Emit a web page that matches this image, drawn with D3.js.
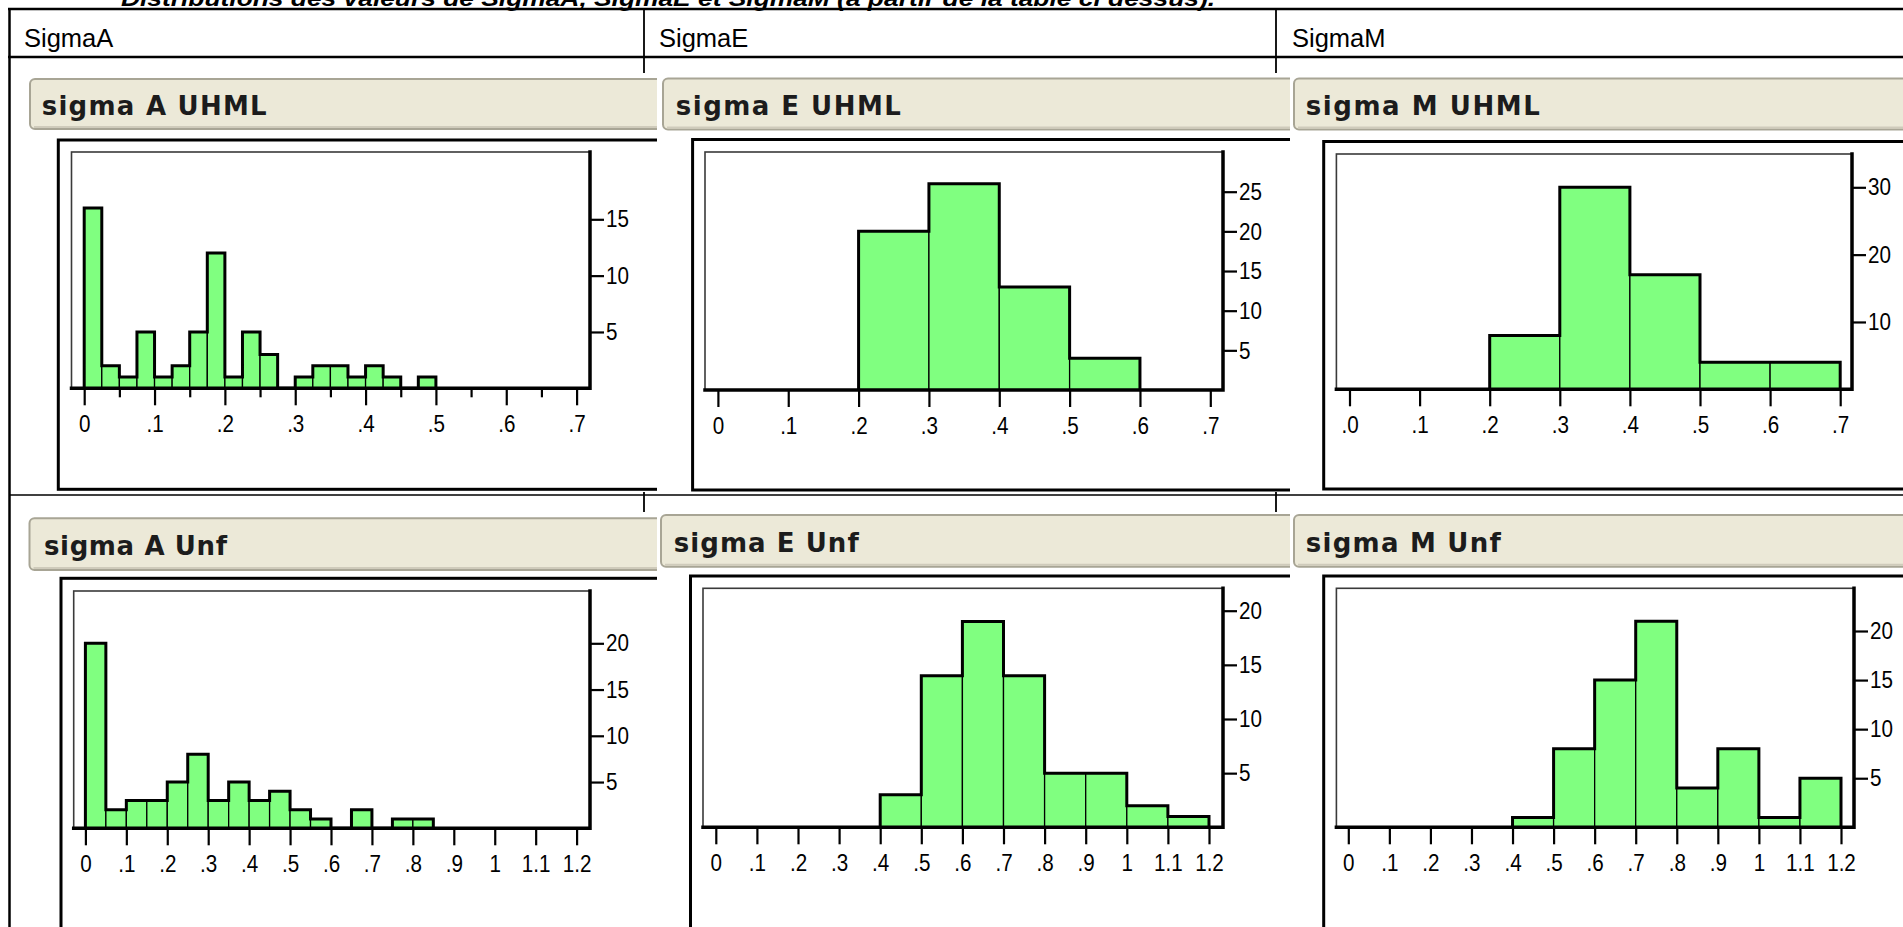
<!DOCTYPE html>
<html><head><meta charset="utf-8">
<script src="https://cdn.jsdelivr.net/npm/d3@7"></script>
<style>html,body{margin:0;padding:0;background:#fff;overflow:hidden}</style>
</head><body>
<svg id="c" width="1903" height="927"></svg>
<script>
// ---------- text ----------
const pageTitle = "Distributions des valeurs de SigmaA, SigmaE et SigmaM (à partir de la table ci dessus).";
const columnHeaders = ["SigmaA", "SigmaE", "SigmaM"];
const panelTitles = ["sigma A UHML", "sigma E UHML", "sigma M UHML", "sigma A Unf", "sigma E Unf", "sigma M Unf"];

// ---------- data (bin edges and counts) ----------
const sigmaA_UHML_bins = [0, 0.025, 0.05, 0.075, 0.1, 0.125, 0.15, 0.175, 0.2, 0.225, 0.25, 0.275, 0.3, 0.325, 0.35, 0.375, 0.4, 0.425, 0.45, 0.475, 0.5];
const sigmaA_UHML_counts = [16, 2, 1, 5, 1, 2, 5, 12, 1, 5, 3, 0, 1, 2, 2, 1, 2, 1, 0, 1];
const sigmaE_UHML_bins = [0.2, 0.3, 0.4, 0.5, 0.6];
const sigmaE_UHML_counts = [20, 26, 13, 4];
const sigmaM_UHML_bins = [0.2, 0.3, 0.4, 0.5, 0.6, 0.7];
const sigmaM_UHML_counts = [8, 30, 17, 4, 4];
const sigmaA_Unf_bins = [0, 0.05, 0.1, 0.15, 0.2, 0.25, 0.3, 0.35, 0.4, 0.45, 0.5, 0.55, 0.6, 0.65, 0.7, 0.75, 0.8, 0.85];
const sigmaA_Unf_counts = [20, 2, 3, 3, 5, 8, 3, 5, 3, 4, 2, 1, 0, 2, 0, 1, 1];
const sigmaE_Unf_bins = [0.4, 0.5, 0.6, 0.7, 0.8, 0.9, 1.0, 1.1, 1.2];
const sigmaE_Unf_counts = [3, 14, 19, 14, 5, 5, 2, 1];
const sigmaM_Unf_bins = [0.4, 0.5, 0.6, 0.7, 0.8, 0.9, 1.0, 1.1, 1.2];
const sigmaM_Unf_counts = [1, 8, 15, 21, 4, 8, 1, 5];

// ---------- ticks ----------
const xTicksUHML = [0, 0.1, 0.2, 0.3, 0.4, 0.5, 0.6, 0.7];
const xMinorTicksA_UHML = [0.05, 0.15, 0.25, 0.35, 0.45, 0.55, 0.65];
const xLabelsUHML = ["0", ".1", ".2", ".3", ".4", ".5", ".6", ".7"];
const xLabelsM_UHML = [".0", ".1", ".2", ".3", ".4", ".5", ".6", ".7"];
const xTicksUnf = [0, 0.1, 0.2, 0.3, 0.4, 0.5, 0.6, 0.7, 0.8, 0.9, 1.0, 1.1, 1.2];
const xLabelsUnf = ["0", ".1", ".2", ".3", ".4", ".5", ".6", ".7", ".8", ".9", "1", "1.1", "1.2"];
const yTicksA_UHML = [5, 10, 15];
const yTicksE_UHML = [5, 10, 15, 20, 25];
const yTicksM_UHML = [10, 20, 30];
const yTicksA_Unf = [5, 10, 15, 20];
const yTicksE_Unf = [5, 10, 15, 20];
const yTicksM_Unf = [5, 10, 15, 20];

const panelsData = [
  {title: panelTitles[0], bins: sigmaA_UHML_bins, counts: sigmaA_UHML_counts, xTicks: xTicksUHML, xMinor: xMinorTicksA_UHML, xLabels: xLabelsUHML, yTicks: yTicksA_UHML},
  {title: panelTitles[1], bins: sigmaE_UHML_bins, counts: sigmaE_UHML_counts, xTicks: xTicksUHML, xMinor: [], xLabels: xLabelsUHML, yTicks: yTicksE_UHML},
  {title: panelTitles[2], bins: sigmaM_UHML_bins, counts: sigmaM_UHML_counts, xTicks: xTicksUHML, xMinor: [], xLabels: xLabelsM_UHML, yTicks: yTicksM_UHML},
  {title: panelTitles[3], bins: sigmaA_Unf_bins, counts: sigmaA_Unf_counts, xTicks: xTicksUnf, xMinor: [], xLabels: xLabelsUnf, yTicks: yTicksA_Unf},
  {title: panelTitles[4], bins: sigmaE_Unf_bins, counts: sigmaE_Unf_counts, xTicks: xTicksUnf, xMinor: [], xLabels: xLabelsUnf, yTicks: yTicksE_Unf},
  {title: panelTitles[5], bins: sigmaM_Unf_bins, counts: sigmaM_Unf_counts, xTicks: xTicksUnf, xMinor: [], xLabels: xLabelsUnf, yTicks: yTicksM_Unf}
];

// ---------- layout (pixel positions only) ----------
const layouts = [
  {clip:[14,73,657,492], bar:{x:30,y:79,h:50}, txt:{x:41.7,y:115,w:225}, frame:{x:58.3,y:140,b:489.3}, plot:{l:71.5,t:152,r:590,b:388.3}, xDom:0.7, xr:[84.2,576.6], yRef:15, yRefPx:219.3},
  {clip:[657,73,1290,492], bar:{x:663,y:78.5,h:51}, txt:{x:675.8,y:115,w:225}, frame:{x:692.6,y:139.5,b:490}, plot:{l:705,t:152,r:1223,b:390}, xDom:0.7, xr:[717.9,1210.3], yRef:25, yRefPx:191.7},
  {clip:[1290,73,1903,492], bar:{x:1294,y:78.5,h:51}, txt:{x:1305.8,y:115,w:234}, frame:{x:1323.7,y:141.5,b:489}, plot:{l:1336.4,t:154,r:1852,b:389.3}, xDom:0.7, xr:[1349.5,1840.2], yRef:30, yRefPx:187.3},
  {clip:[14,512,657,927], bar:{x:29.5,y:518.3,h:51.7}, txt:{x:44,y:555,w:183}, frame:{x:61,y:578.3,b:1100}, plot:{l:73.7,t:591,r:590,b:828.3}, xDom:1.2, xr:[85.4,576.6], yRef:20, yRefPx:643.3},
  {clip:[657,512,1290,927], bar:{x:661,y:515,h:51.7}, txt:{x:673.7,y:551.7,w:185}, frame:{x:690.5,y:576,b:1100}, plot:{l:703,t:588.3,r:1223,b:827.3}, xDom:1.2, xr:[715.8,1209], yRef:20, yRefPx:610.7},
  {clip:[1290,512,1903,927], bar:{x:1294,y:515,h:51.7}, txt:{x:1305.8,y:551.7,w:195}, frame:{x:1323.7,y:576,b:1100}, plot:{l:1336.4,t:588.3,r:1854,b:827.3}, xDom:1.2, xr:[1348.3,1841], yRef:20, yRefPx:631}
];

const svg = d3.select("#c");
const TICKFONT = "'Liberation Sans', Arial, sans-serif";
const TICKSIZE = 24;
const TICKSCALE = 0.86;

// ---------- page title (cut at top, as in the reference) ----------
svg.append("text").attr("x", 121).attr("y", 5.5)
  .attr("font-family", "'Liberation Sans', Arial, sans-serif")
  .attr("font-weight", "bold").attr("font-style", "italic").attr("font-size", 22)
  .attr("textLength", 1094).attr("lengthAdjust", "spacingAndGlyphs")
  .text(pageTitle);

// ---------- table grid ----------
const grid = svg.append("g").attr("stroke", "#000");
grid.append("line").attr("x1", 8).attr("x2", 1903).attr("y1", 9).attr("y2", 9).attr("stroke-width", 2.5);
grid.append("line").attr("x1", 8).attr("x2", 1903).attr("y1", 57).attr("y2", 57).attr("stroke-width", 2.5);
grid.append("line").attr("x1", 9.5).attr("x2", 9.5).attr("y1", 8).attr("y2", 927).attr("stroke-width", 2.5);
[644, 1276].forEach(xv => grid.append("line").attr("x1", xv).attr("x2", xv).attr("y1", 9).attr("y2", 927).attr("stroke-width", 1.8));
grid.append("line").attr("x1", 9).attr("x2", 1903).attr("y1", 495).attr("y2", 495).attr("stroke-width", 1.6);

const headerX = [24, 659, 1292];
columnHeaders.forEach((h, i) => {
  svg.append("text").attr("x", headerX[i]).attr("y", 46.5)
    .attr("font-family", "'Liberation Sans', Arial, sans-serif").attr("font-size", 25.5)
    .attr("fill", "#000").text(h);
});

// ---------- panels ----------
function drawPanel(L, D, idx) {
  const cid = "clip" + idx;
  svg.append("clipPath").attr("id", cid).append("rect")
    .attr("x", L.clip[0]).attr("y", L.clip[1])
    .attr("width", L.clip[2] - L.clip[0]).attr("height", L.clip[3] - L.clip[1]);
  const g = svg.append("g").attr("clip-path", `url(#${cid})`);
  g.append("rect").attr("x", L.clip[0]).attr("y", L.clip[1])
    .attr("width", L.clip[2] - L.clip[0]).attr("height", L.clip[3] - L.clip[1]).attr("fill", "#fff");

  // title bar
  g.append("rect").attr("x", L.bar.x).attr("y", L.bar.y).attr("width", 1300).attr("height", L.bar.h)
    .attr("rx", 5).attr("fill", "#ECE9D8").attr("stroke", "#A8A595").attr("stroke-width", 2);
  g.append("line").attr("x1", L.bar.x + 4).attr("x2", L.bar.x + 1300).attr("y1", L.bar.y + L.bar.h - 2).attr("y2", L.bar.y + L.bar.h - 2)
    .attr("stroke", "#CFCBBB").attr("stroke-width", 2);
  g.append("text").attr("x", L.txt.x).attr("y", L.txt.y)
    .attr("font-family", "'DejaVu Sans', Verdana, sans-serif").attr("font-weight", "bold").attr("font-size", 26)
    .attr("fill", "#1c1c1c").attr("textLength", L.txt.w).attr("lengthAdjust", "spacing")
    .text(D.title);

  // outer frame
  g.append("rect").attr("x", L.frame.x).attr("y", L.frame.y).attr("width", 1400).attr("height", L.frame.b - L.frame.y)
    .attr("fill", "none").attr("stroke", "#000").attr("stroke-width", 3);

  const x = d3.scaleLinear().domain([0, L.xDom]).range(L.xr);
  const y = d3.scaleLinear().domain([0, L.yRef]).range([L.plot.b, L.yRefPx]);

  // plot area
  g.append("rect").attr("x", L.plot.l).attr("y", L.plot.t).attr("width", L.plot.r - L.plot.l).attr("height", L.plot.b - L.plot.t)
    .attr("fill", "#fff").attr("stroke", "#3a3a3a").attr("stroke-width", 1.6);

  // bars
  const bars = D.counts.map((c, i) => ({x0: D.bins[i], x1: D.bins[i + 1], c}));
  g.append("g").selectAll("rect").data(bars.filter(b => b.c > 0)).join("rect")
    .attr("x", b => x(b.x0)).attr("width", b => x(b.x1) - x(b.x0))
    .attr("y", b => y(b.c)).attr("height", b => y(0) - y(b.c))
    .attr("fill", "#80FF80").attr("stroke", "#000").attr("stroke-width", 1.3);

  // silhouette outline
  const pts = [[D.bins[0], 0]];
  bars.forEach(b => { pts.push([b.x0, b.c]); pts.push([b.x1, b.c]); });
  pts.push([D.bins[D.bins.length - 1], 0]);
  g.append("path").attr("d", d3.line().x(p => x(p[0])).y(p => y(p[1]))(pts))
    .attr("fill", "none").attr("stroke", "#000").attr("stroke-width", 3).attr("stroke-linejoin", "miter");

  // thick right/bottom border
  g.append("path").attr("d", `M${L.plot.l},${L.plot.b}H${L.plot.r}V${L.plot.t}`)
    .attr("fill", "none").attr("stroke", "#000").attr("stroke-width", 3.5).attr("stroke-linecap", "square");

  // x axis
  const xa = g.append("g").attr("transform", `translate(0,${L.plot.b})`)
    .call(d3.axisBottom(x).tickValues(D.xTicks).tickSize(17).tickPadding(10).tickFormat((d, i) => D.xLabels[i]));
  xa.select(".domain").remove();
  xa.selectAll("line").attr("stroke", "#000").attr("stroke-width", 2.2);
  xa.selectAll("text").attr("font-family", TICKFONT).attr("font-size", TICKSIZE).attr("fill", "#000")
    .attr("transform", `scale(${TICKSCALE},1)`);
  xa.attr("font-size", null).attr("font-family", null);
  if (D.xMinor.length) {
    const xm = g.append("g").attr("transform", `translate(0,${L.plot.b})`)
      .call(d3.axisBottom(x).tickValues(D.xMinor).tickSize(9).tickFormat(""));
    xm.select(".domain").remove();
    xm.selectAll("line").attr("stroke", "#000").attr("stroke-width", 2.2);
  }

  // y axis (right)
  const ya = g.append("g").attr("transform", `translate(${L.plot.r},0)`)
    .call(d3.axisRight(y).tickValues(D.yTicks).tickSize(14).tickPadding(2));
  ya.select(".domain").remove();
  ya.selectAll("line").attr("stroke", "#000").attr("stroke-width", 2.2);
  ya.selectAll("text").attr("font-family", TICKFONT).attr("font-size", TICKSIZE).attr("fill", "#000")
    .attr("x", 16 / TICKSCALE).attr("transform", `scale(${TICKSCALE},1)`);
  ya.attr("font-size", null).attr("font-family", null);
}

layouts.forEach((L, i) => drawPanel(L, panelsData[i], i));
</script>
</body></html>
